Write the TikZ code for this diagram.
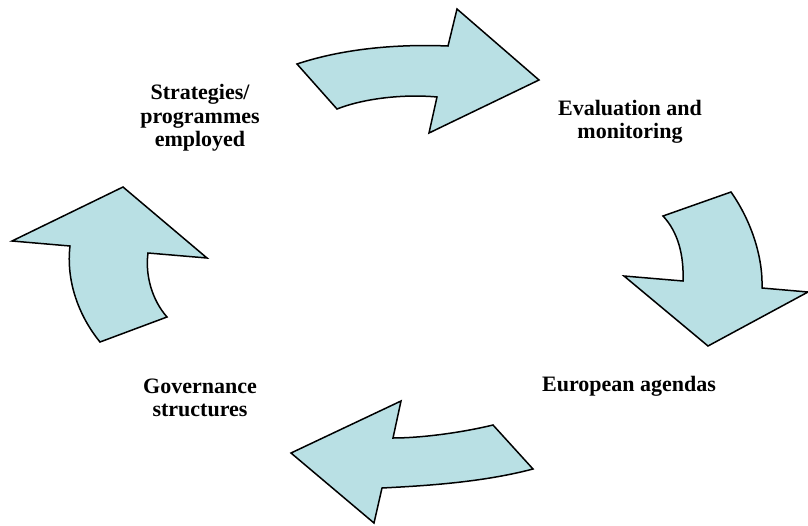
\documentclass[tikz,border=0pt]{standalone}
\usepackage{fontspec}
\setmainfont{Liberation Serif}
\definecolor{arrowfill}{RGB}{185,224,228}
\begin{document}
\begin{tikzpicture}[x=1pt,y=-1pt,
  cyclearrow/.style={fill=arrowfill,draw=black,line width=1.5pt,line join=miter},
  lbl/.style={font=\fontsize{22}{23.5}\selectfont\bfseries,align=center,inner sep=0pt}]
\useasboundingbox (0,0) rectangle (808,525);
% top arrow (pointing right)
\path[cyclearrow] (297,64) .. controls (345,48) and (400,44) .. (448,46)
  -- (457,9) -- (539,80) -- (429,133) -- (437,97)
  .. controls (405,94) and (365,98) .. (337,109) -- cycle;
% right arrow (pointing down)
\path[cyclearrow] (663,216) -- (731,192)
  .. controls (752,222) and (763,258) .. (762,288)
  -- (808,292) -- (708,346) -- (624,276) -- (683,281)
  .. controls (684,255) and (678,232) .. (663,216) -- cycle;
% bottom arrow (pointing left)
\path[cyclearrow] (493,425) -- (533,469)
  .. controls (480,483) and (420,486) .. (382,488)
  -- (374,523) -- (291,453) -- (401,401) -- (393,438)
  .. controls (420,438) and (460,433) .. (493,425) -- cycle;
% left arrow (pointing up)
\path[cyclearrow] (100,342) -- (167,317)
  .. controls (152,300) and (145,275) .. (148,253)
  -- (207,258) -- (123,187) -- (12,241) -- (70,246)
  .. controls (66,280) and (78,315) .. (100,342) -- cycle;
% labels
\node[lbl] (strat) at (200,118) {Strategies/\\programmes\\employed};
\node[lbl] (eval) at (630,122) {Evaluation and\\monitoring};
\node[lbl] (euro) at (629,386) {European agendas};
\node[lbl] (gov) at (200,398) {Governance\\structures};
\end{tikzpicture}
\end{document}
